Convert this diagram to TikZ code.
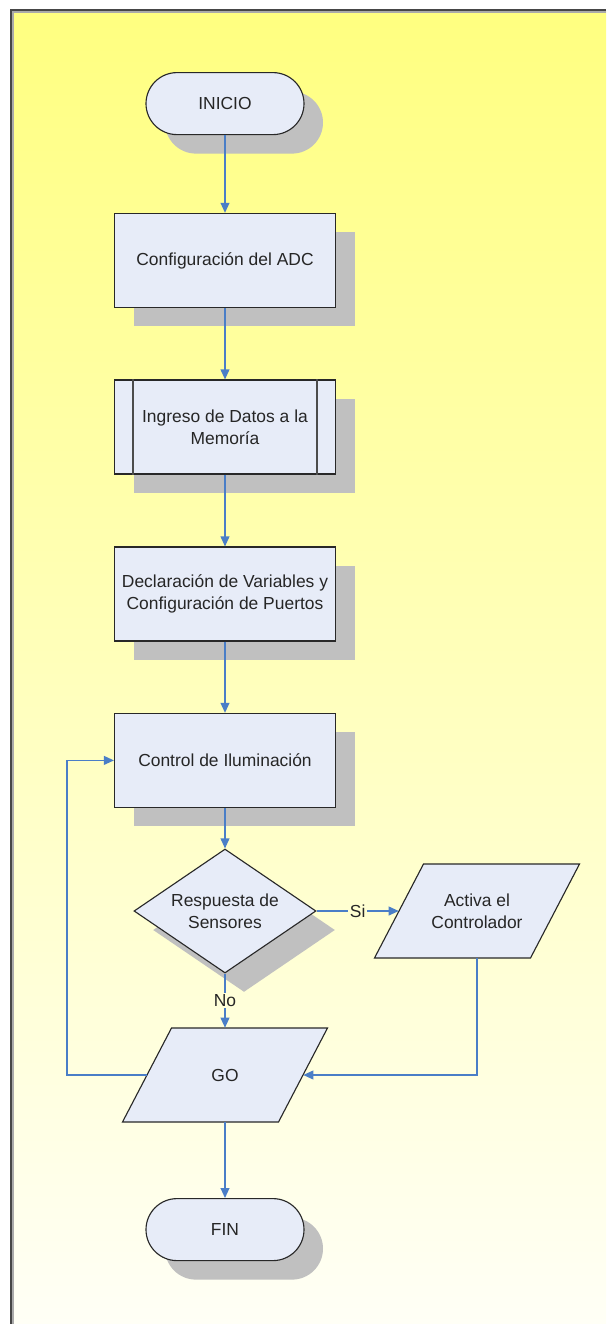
\documentclass[tikz,border=0pt]{standalone}
\usepackage{fontspec}
\setmainfont{Liberation Sans}
\usetikzlibrary{shapes.geometric,shadows,arrows.meta}

\definecolor{cajafondo}{RGB}{231,236,248}
\definecolor{borde}{RGB}{40,40,40}
\definecolor{flecha}{RGB}{74,126,199}
\definecolor{sombra}{RGB}{192,192,192}
\definecolor{fondoarriba}{RGB}{255,255,128}
\definecolor{fondoabajo}{RGB}{255,255,246}
\definecolor{marco}{RGB}{70,70,70}
\definecolor{marcoclaro}{RGB}{170,170,170}

\begin{document}
\begin{tikzpicture}[
		font=\fontsize{12.4pt}{15.5pt}\selectfont,
		base/.style={draw=borde, fill=cajafondo, line width=0.8pt, text=black!85,
			align=center, inner sep=0pt},
		sombreado/.style={drop shadow={shadow xshift=0.475cm, shadow yshift=-0.475cm,
			fill=sombra, opacity=1}},
		term/.style={base, sombreado, minimum width=3.95cm, minimum height=1.55cm,
			rounded corners=0.775cm},
		proc/.style={base, sombreado, minimum width=5.525cm, minimum height=2.35cm},
		dec/.style={base, sombreado, diamond, aspect=1.47, minimum width=4.55cm,
			minimum height=3.1cm},
		io/.style={align=center, text=black!85, inner sep=0pt, minimum width=3.9cm,
			minimum height=2.35cm},
		paral/.style={draw=borde, fill=cajafondo, line width=0.8pt},
		arr/.style={-{Triangle[length=0.25cm, width=0.22cm]}, draw=flecha, line width=1pt},
		lbl/.style={inner sep=1pt, text=black!85},
	]
		\useasboundingbox (0,0) rectangle (15.15,-33.1);

		% Fondo degradado y marco
		\shade[top color=fondoarriba, bottom color=fondoabajo] (0.3,-0.28) rectangle (15.15,-33.1);
		\draw[marcoclaro, line width=0.05cm] (0.32,-33.1) |- (15.15,-0.3);
		\draw[marco, line width=0.04cm] (0.27,-33.1) |- (15.15,-0.25);

		% Paralelogramos de entrada/salida (el texto va en los nodos de abajo)
		\draw[paral] (11.925,-22.775) ++(-2.5625,-1.175) -- ++(3.9,0) -- ++(1.225,2.35)
			-- ++(-3.9,0) -- cycle;
		\draw[paral] (5.625,-26.875) ++(-2.5625,-1.175) -- ++(3.9,0) -- ++(1.225,2.35)
			-- ++(-3.9,0) -- cycle;

		% Bloques del diagrama con coordenadas absolutas
		\node[term] (inicio) at (5.625,-2.59) {INICIO};
		\node[proc] (adc) at (5.625,-6.51) {Configuración del ADC};
		\node[proc] (ing) at (5.625,-10.675) {Ingreso de Datos a la\\Memoría};
		\draw[black!70, line width=1.2pt] ([xshift=0.475cm]ing.north west) -- ([xshift=0.475cm]ing.south west);
		\draw[black!70, line width=1.2pt] ([xshift=-0.475cm]ing.north east) -- ([xshift=-0.475cm]ing.south east);
		\node[proc] (decl) at (5.625,-14.85) {Declaración de Variables y\\Configuración de Puertos};
		\node[proc] (ctrl) at (5.625,-19.01) {Control de Iluminación};
		\node[dec] (resp) at (5.625,-22.775) {Respuesta de\\Sensores};
		\node[io] (activa) at (11.925,-22.775) {Activa el\\Controlador};
		\node[io] (go) at (5.625,-26.875) {GO};
		\node[term] (fin) at (5.625,-30.74) {FIN};
		\coordinate (lazo) at (1.675,-26.875);

		% Conexiones
		\draw[arr] (inicio) -- (adc);
		\draw[arr] (adc) -- (ing);
		\draw[arr] (ing) -- (decl);
		\draw[arr] (decl) -- (ctrl);
		\draw[arr] (ctrl) -- (resp);
		\draw[arr] (resp) -- node[lbl, fill={rgb,255:red,255;green,255;blue,209}] {Si} (activa);
		\draw[arr] (resp) -- node[lbl, fill={rgb,255:red,255;green,255;blue,217}] {No} (go);
		\draw[arr] (activa) |- (go);
		\draw[arr] (go) -- (lazo) |- (ctrl);
		\draw[arr] (go) -- (fin);
	\end{tikzpicture}
\end{document}
